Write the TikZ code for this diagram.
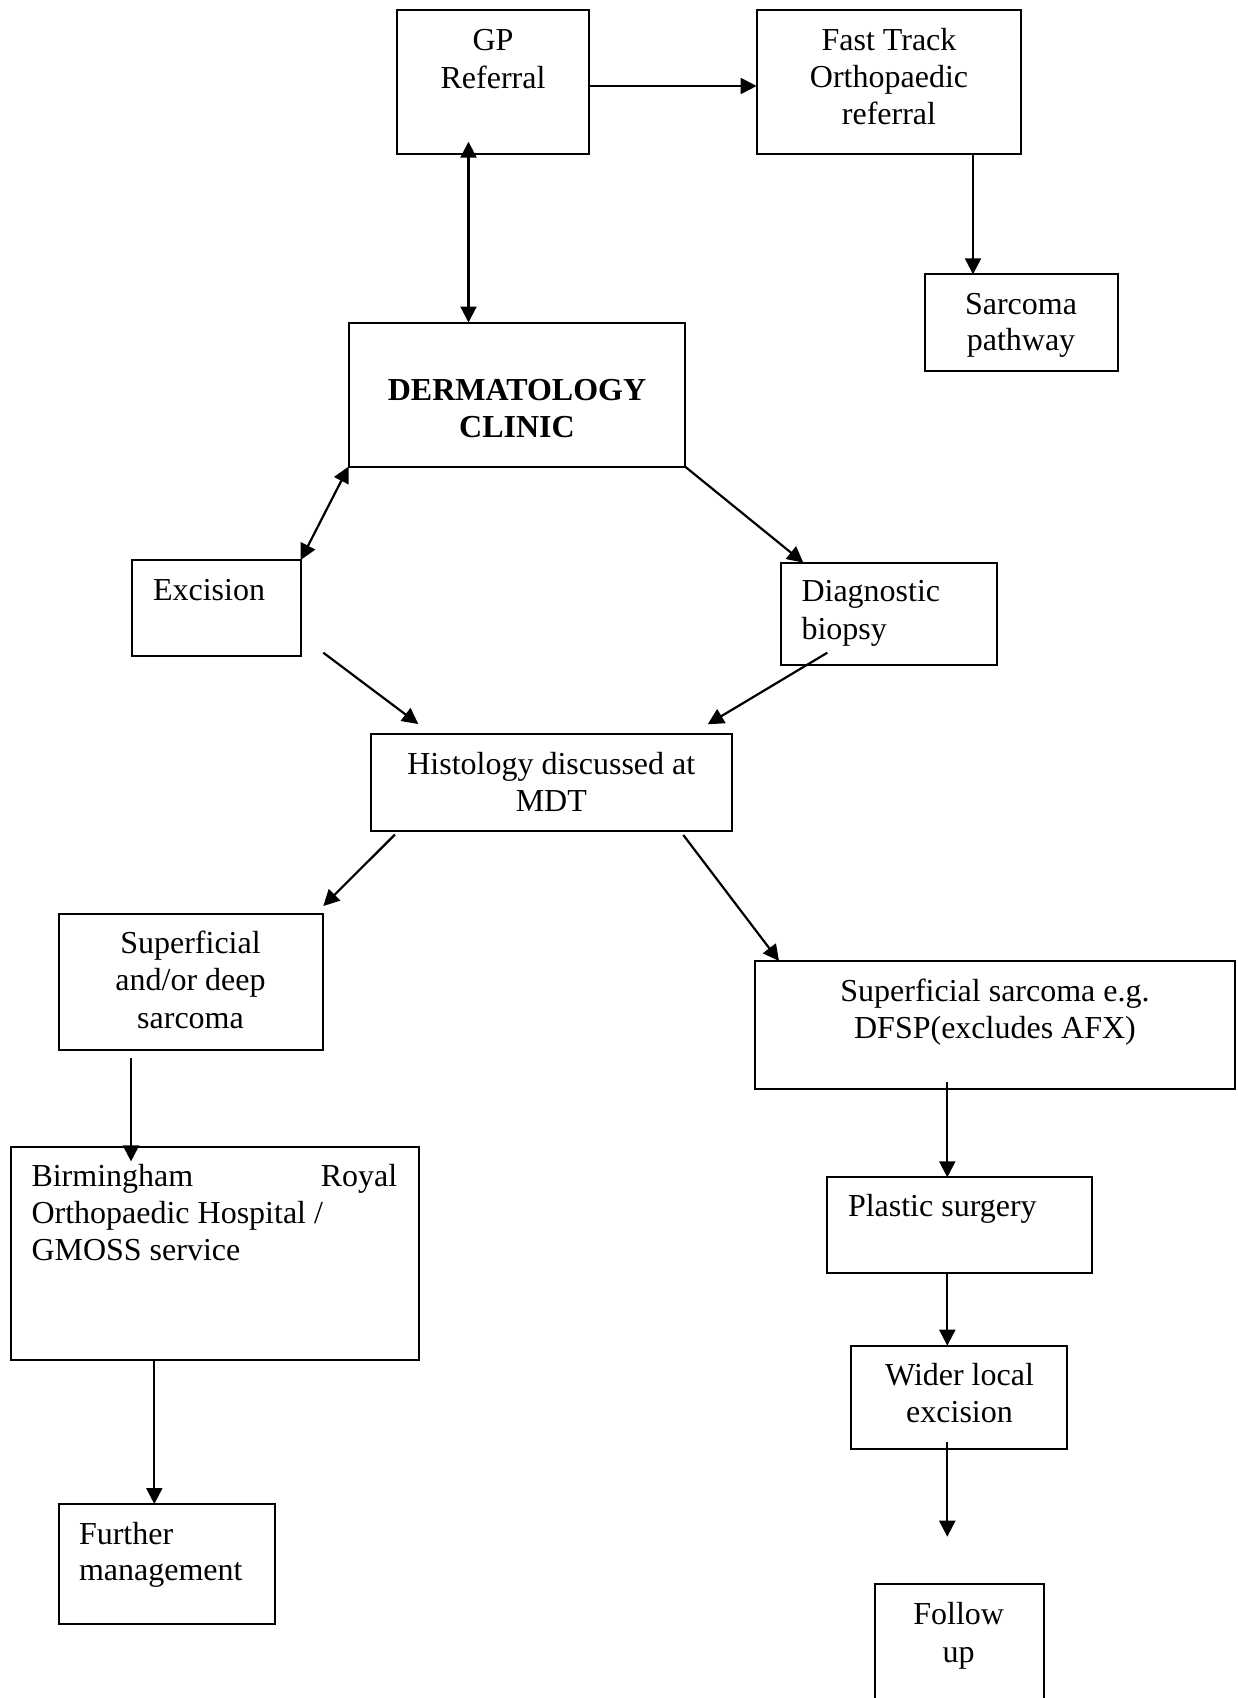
\documentclass[tikz,border=0pt]{standalone}
\usepackage{fontspec}
\setmainfont{Liberation Serif}
\usetikzlibrary{arrows.meta}

\begin{document}
\begin{tikzpicture}[x=1pt,y=-1pt,
  box/.style={draw, line width=2pt, rectangle, inner sep=0pt, outer sep=0pt},
  txt/.style={inner sep=0pt, outer sep=0pt, font=\fontsize{32}{37.5}\selectfont},
  txtc/.style={txt, anchor=base},
  txtl/.style={txt, anchor=base west},
  txtb/.style={txtc, font=\fontsize{32}{37.5}\selectfont\bfseries},
  tip/.tip={Triangle[length=16pt,width=16pt]},
  arr/.style={line width=2.2pt, -tip},
  arrtwo/.style={line width=2.2pt, tip-tip},
]
% page frame
\useasboundingbox (0,0) rectangle (1238,1698);
\fill[white] (0,0) rectangle (1238,1698);
\clip (0,0) rectangle (1238,1698);

% ---- boxes ----
\node[box, minimum width=192.6pt, minimum height=144pt] (gp)   at (493,82.3) {};
\node[box, minimum width=264.3pt, minimum height=144pt] (ft)   at (888.8,82.3) {};
\node[box, minimum width=192.7pt, minimum height=96.4pt] (sp)  at (1021.3,322.5) {};
\node[box, minimum width=336.3pt, minimum height=144pt] (derm) at (516.8,394.5) {};
\node[box, minimum width=168.4pt, minimum height=96pt] (exc)   at (216.5,608) {};
\node[box, minimum width=216.3pt, minimum height=102.3pt] (diag) at (889.2,613.8) {};
\node[box, minimum width=361.3pt, minimum height=96.4pt] (hist) at (551.3,782.5) {};
\node[box, minimum width=264.3pt, minimum height=135.7pt] (sds) at (191.2,982.2) {};
\node[box, minimum width=480pt, minimum height=128pt] (dfsp)   at (995,1025) {};
\node[box, minimum width=408.6pt, minimum height=212.8pt] (brh) at (215,1253.2) {};
\node[box, minimum width=216.6pt, minimum height=120pt] (fm)   at (167,1564) {};
\node[box, minimum width=265pt, minimum height=96pt] (ps)      at (959.2,1225.3) {};
\node[box, minimum width=216.6pt, minimum height=103.6pt] (wle) at (959,1397.5) {};
\node[box, minimum width=169pt, minimum height=136pt] (fu)     at (959.5,1652) {};

% ---- texts ----
\node[txtc] (gp1) at (493,50) {GP};
\node[txtc] (gp2) at (493,88) {Referral};
\node[txtc] (ft1) at (889,50) {Fast Track};
\node[txtc] (ft2) at (889,87) {Orthopaedic};
\node[txtc] (ft3) at (889,124) {referral};
\node[txtc] (sp1) at (1021,314) {Sarcoma};
\node[txtc] (sp2) at (1021,350) {pathway};
\node[txtb] (dm1) at (517,400) {DERMATOLOGY};
\node[txtb] (dm2) at (517,437) {CLINIC};
\node[txtl] (ex1) at (153,600) {Excision};
\node[txtl] (dg1) at (801.5,601.7) {Diagnostic};
\node[txtl] (dg2) at (801.5,639.3) {biopsy};
\node[txtc] (hs1) at (551.3,774) {Histology discussed at};
\node[txtc] (hs2) at (551.3,811.7) {MDT};
\node[txtc] (sd1) at (190.5,953.3) {Superficial};
\node[txtc] (sd2) at (190.5,990.5) {and/or deep};
\node[txtc] (sd3) at (190.5,1028) {sarcoma};
\node[txtc] (df1) at (995,1001) {Superficial sarcoma e.g.};
\node[txtc] (df2) at (995,1038.3) {DFSP(excludes AFX)};
\node[txtl] (bh1) at (31.5,1186) {\makebox[365.8pt][s]{Birmingham\hfill Royal}};
\node[txtl] (bh2) at (31.5,1223.5) {Orthopaedic Hospital /};
\node[txtl] (bh3) at (31.5,1260.5) {GMOSS service};
\node[txtl] (fm1) at (79,1544) {Further};
\node[txtl] (fm2) at (79,1580.7) {management};
\node[txtl] (ps1) at (848,1216.7) {Plastic surgery};
\node[txtc] (wl1) at (959.5,1385) {Wider local};
\node[txtc] (wl2) at (959.5,1422.3) {excision};
\node[txtc] (fu1) at (958.7,1624) {Follow};
\node[txtc] (fu2) at (958.7,1662) {up};

% ---- connector guide coordinates ----
\coordinate (gpft) at (0,86);
\coordinate (ftsp) at (973,0);
\coordinate (gpup) at (468.5,141.7);
\coordinate (dgtop) at (803.3,0);
\coordinate (exA) at (323.3,652.7);
\coordinate (exB) at (418.3,724);
\coordinate (dgA) at (827.3,652.7);
\coordinate (dgB) at (707.7,724.3);
\coordinate (hsA) at (395,834.5);
\coordinate (hsB) at (323.3,906);
\coordinate (hdA) at (683.3,835);
\coordinate (hdB) at (779,0);
\coordinate (sbA) at (131,1058.3);
\coordinate (sbB) at (131,1161.4);
\coordinate (bfx) at (154.3,0);
\coordinate (rcol) at (947.3,0);
\coordinate (dfA) at (947.3,1082.3);
\coordinate (wlA) at (947.3,1441.7);
\coordinate (wlB) at (947.3,1536.7);

% ---- connectors ----
\draw[arr] (gp.east |- gpft) -- (ft.west |- gpft);
\draw[arr] (ft.south -| ftsp) -- (sp.north -| ftsp);
\draw[arrtwo] (gpup) -- (derm.north -| gpup);
\draw[arrtwo] (derm.south west) -- (exc.north east);
\draw[arr] (derm.south east) -- (diag.north -| dgtop);
\draw[arr] (exA) -- (exB);
\draw[arr] (dgA) -- (dgB);
\draw[arr] (hsA) -- (hsB);
\draw[arr] (hdA) -- (dfsp.north -| hdB);
\draw[arr] (sbA) -- (sbB);
\draw[arr] (brh.south -| bfx) -- (fm.north -| bfx);
\draw[arr] (dfA) -- (ps.north -| rcol);
\draw[arr] (ps.south -| rcol) -- (wle.north -| rcol);
\draw[arr] (wlA) -- (wlB);
\end{tikzpicture}
\end{document}
